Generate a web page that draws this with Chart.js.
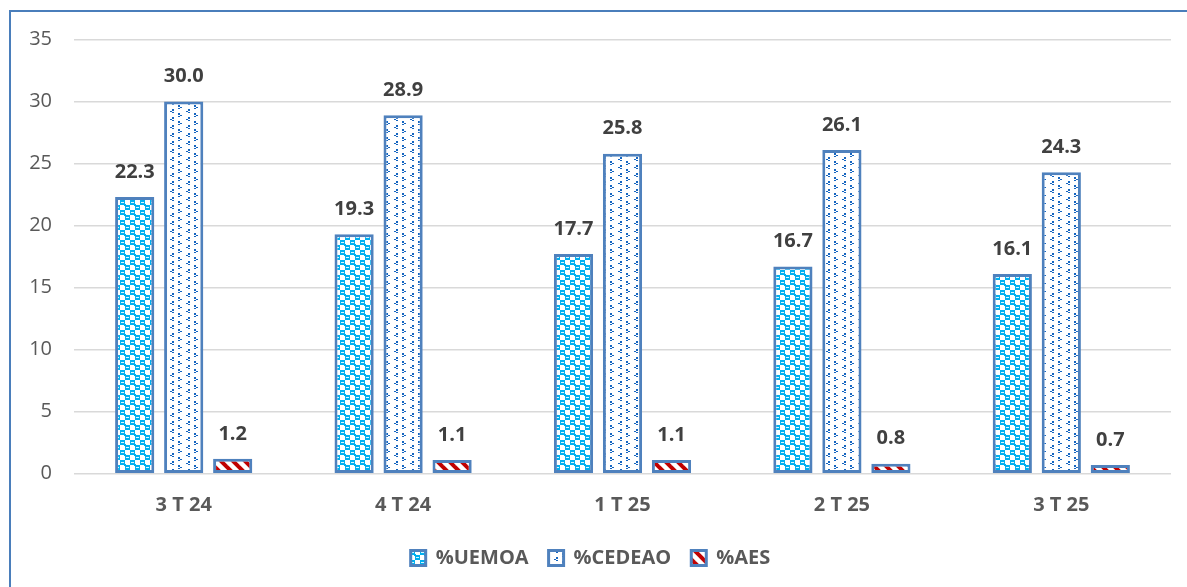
<!DOCTYPE html>
<html>
<head>
<meta charset="utf-8">
<script src="https://cdn.jsdelivr.net/npm/chart.js@4.4.1/dist/chart.umd.min.js"></script>
<style>
  html, body { margin: 0; padding: 0; background: #ffffff; overflow: hidden; }
  #wrap { position: relative; width: 1187px; height: 587px; }
  #frame { position: absolute; left: 9px; top: 10px; width: 1300px; height: 700px;
           border-left: 2px solid #4a7ebb; border-top: 2px solid #4a7ebb; pointer-events: none; }
  canvas { position: absolute; left: 0; top: 0; }
</style>
</head>
<body>
<div id="wrap">
  <canvas id="c" width="1187" height="587"></canvas>
  <div id="frame"></div>
</div>
<script>
const categories = ['3 T 24', '4 T 24', '1 T 25', '2 T 25', '3 T 25'];
const uemoa = [22.3, 19.3, 17.7, 16.7, 16.1];
const cedeao = [30.0, 28.9, 25.8, 26.1, 24.3];
const aes = [1.2, 1.1, 1.1, 0.8, 0.7];
const seriesNames = ['%UEMOA', '%CEDEAO', '%AES'];

function tile(w, h, draw) {
  const c = document.createElement('canvas');
  c.width = w; c.height = h;
  const x = c.getContext('2d');
  draw(x);
  return x.createPattern(c, 'repeat');
}

const patUemoa = tile(10, 10, x => {
  x.fillStyle = '#00b0f0'; x.fillRect(0, 0, 10, 10);
  x.fillStyle = '#ffffff';
  x.fillRect(5, 0, 5, 5);
  x.fillRect(0, 5, 5, 5);
  x.fillStyle = '#00b0f0';
  x.fillRect(4, 4, 2, 2);
  x.fillStyle = '#d8f3fd';
  x.fillRect(1, 2, 3, 1);
  x.fillRect(6, 7, 3, 1);
});

const patCedeao = tile(16, 16, x => {
  x.fillStyle = '#ffffff'; x.fillRect(0, 0, 16, 16);
  x.fillStyle = '#1565c0';
  // '>' marks
  x.fillRect(2, 1, 2, 2); x.fillRect(4, 3, 2, 1); x.fillRect(2, 4, 2, 1);
  x.fillRect(2, 9, 2, 2); x.fillRect(4, 11, 2, 1); x.fillRect(2, 12, 2, 1);
  // '<' marks
  x.fillRect(12, 5, 2, 2); x.fillRect(10, 7, 2, 1); x.fillRect(12, 8, 2, 1);
  x.fillRect(12, 13, 2, 2); x.fillRect(10, 15, 2, 1); x.fillRect(12, 0, 2, 1);
});

const patAes = tile(12, 12, x => {
  x.fillStyle = '#ffffff'; x.fillRect(0, 0, 12, 12);
  x.strokeStyle = '#c00000'; x.lineWidth = 4;
  for (let k = -1; k <= 1; k++) {
    x.beginPath();
    x.moveTo(-4, -4 + k * 12);
    x.lineTo(16, 16 + k * 12);
    x.stroke();
  }
});

const dataLabels = {
  id: 'dataLabels',
  afterDatasetsDraw(chart) {
    const ctx = chart.ctx;
    ctx.save();
    ctx.font = 'bold 20px "Open Sans"';
    ctx.fillStyle = '#404040';
    ctx.textAlign = 'center';
    ctx.textBaseline = 'middle';
    chart.data.datasets.forEach((ds, i) => {
      const meta = chart.getDatasetMeta(i);
      meta.data.forEach((el, j) => {
        ctx.fillText(ds.data[j].toFixed(1), el.x, el.y - 25);
      });
    });
    ctx.restore();
  }
};

const borderBlue = '#4f81bd';

new Chart(document.getElementById('c'), {
  type: 'bar',
  data: {
    labels: categories,
    datasets: [
      { label: seriesNames[0], data: uemoa, backgroundColor: patUemoa, borderColor: borderBlue, borderWidth: 3, borderSkipped: false },
      { label: seriesNames[1], data: cedeao, backgroundColor: patCedeao, borderColor: borderBlue, borderWidth: 3, borderSkipped: false },
      { label: seriesNames[2], data: aes, backgroundColor: patAes, borderColor: borderBlue, borderWidth: 3, borderSkipped: false }
    ]
  },
  options: {
    responsive: false,
    animation: false,
    devicePixelRatio: 1,
    layout: { padding: { left: 10, right: 16, top: 39.5, bottom: 9 } },
    datasets: { bar: { categoryPercentage: 0.67, barPercentage: 0.8 } },
    scales: {
      x: {
        grid: { display: false, drawTicks: false },
        border: { display: false },
        ticks: { font: { family: 'Open Sans', size: 20, weight: 'bold' }, color: '#595959', padding: 20 },
        afterFit(s) { s.height = 54.3; }
      },
      y: {
        min: 0, max: 35,
        ticks: { stepSize: 5, font: { family: 'Open Sans', size: 20 }, color: '#595959', padding: 22 },
        grid: { color: '#d9d9d9', lineWidth: 1.5, drawTicks: false },
        border: { display: false },
        afterFit(s) { s.width = 64; }
      }
    },
    plugins: {
      legend: {
        position: 'bottom',
        labels: {
          boxWidth: 15, boxHeight: 15, padding: 20,
          font: { family: 'Open Sans', size: 20, weight: 'bold' }, color: '#595959'
        }
      },
      tooltip: { enabled: false }
    }
  },
  plugins: [dataLabels]
});
</script>
</body>
</html>
